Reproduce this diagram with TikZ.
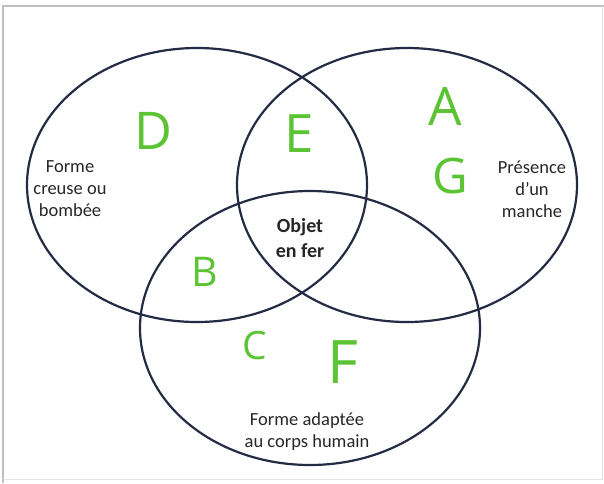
\documentclass[tikz,border=0pt]{standalone}
\usepackage{fontspec}
\setmainfont{Carlito}
\newfontfamily\mainlettre{Open Sans}
\usetikzlibrary{shapes.geometric}
\definecolor{encre}{HTML}{232B45}
\definecolor{vert}{HTML}{5CC434}

\begin{document}
\begin{tikzpicture}[x=1pt, y=-1pt,
    cercle/.style={ellipse, draw=encre, line width=2.2pt, minimum width=340pt, minimum height=274pt, inner sep=0pt},
    texte/.style={align=center, font=\fontsize{18.5}{22}\selectfont, text=black!85},
    lettre/.style={text=vert, inner sep=0pt, font=\mainlettre\fontsize{#1}{#1}\selectfont},
]
    \useasboundingbox (0,0) rectangle (604,483);

    % Cadre
    \draw[gray!50, line width=1.2pt] (3,483) -- (3,6) -- (604,6);
    \draw[gray!20, line width=1pt] (3,479) -- (602,479) -- (602,6);

    % Cercles
    \node[cercle] (creux) at (197,185) {};
    \node[cercle] (manche) at (407,185) {};
    \node[cercle] (corps) at (310,328) {};

    % Legendes
    \node[texte] (tcreux) at (70,189) {Forme\\creuse ou\\bombée};
    \node[texte] (tmanche) at (532,189) {Présence\\d’un\\manche};
    \node[texte] (tcorps) at (307,432) {Forme adaptée\\au corps humain};
    \node[texte, font=\bfseries\fontsize{20}{25}\selectfont] (fer) at (300,238) {Objet\\en fer};

    % Lettres
    \node[lettre=52] (D) at (153,131) {D};
    \node[lettre=53] (E) at (299,134) {E};
    \node[lettre=53] (A) at (445,106) {A};
    \node[lettre=49] (G) at (450,176) {G};
    \node[lettre=41] (B) at (205,272) {B};
    \node[lettre=39] (C) at (255,346) {C};
    \node[lettre=60] (F) at (343,362) {F};
\end{tikzpicture}
\end{document}
